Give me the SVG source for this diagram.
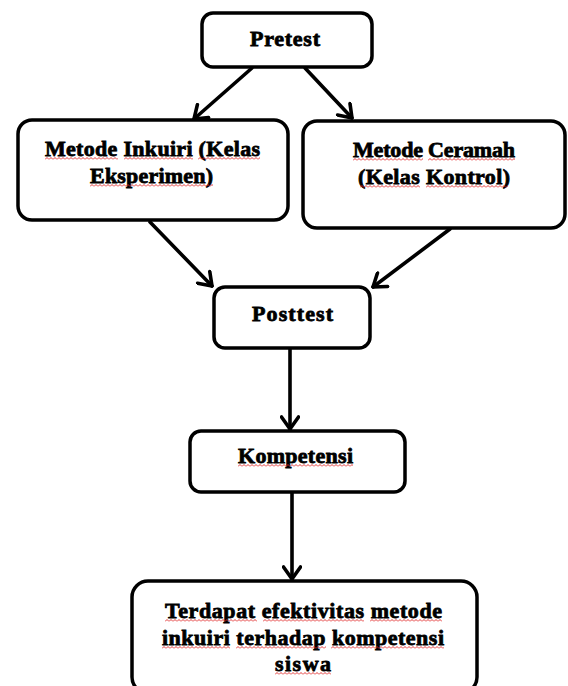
<svg xmlns="http://www.w3.org/2000/svg" width="568" height="686" viewBox="0 0 568 686">
<style>
.box{fill:#fff;stroke:#000;stroke-width:3.5}
.t{font-family:"Liberation Serif","Times New Roman",serif;font-weight:bold;font-size:22px;fill:#000;stroke:#000;stroke-width:0.8;text-anchor:start}
.c{fill:none;stroke:#000;stroke-width:3.6;stroke-linecap:round}
.sq{fill:url(#sq)}
</style>
<defs>
<pattern id="sq" width="4" height="3" patternUnits="userSpaceOnUse">
<path d="M0,2.5 L2,0.5 L4,2.5" fill="none" stroke="#e02020" stroke-width="0.9"/>
</pattern>
<marker id="ah" viewBox="-14 -10 16 20" refX="0" refY="0" markerWidth="16" markerHeight="20" markerUnits="userSpaceOnUse" orient="auto">
<path d="M-12,-8.5 L0,0 L-12,8.5" fill="none" stroke="#000" stroke-width="3.6" stroke-linecap="round" stroke-linejoin="round"/>
</marker>
</defs>
<g id="connectors">
<line class="c" x1="252" y1="68" x2="194" y2="119" marker-end="url(#ah)"/>
<line class="c" x1="305" y1="68" x2="352" y2="118" marker-end="url(#ah)"/>
<line class="c" x1="150" y1="222" x2="212" y2="286" marker-end="url(#ah)"/>
<line class="c" x1="450" y1="229" x2="373" y2="287" marker-end="url(#ah)"/>
<line class="c" x1="290" y1="349" x2="290" y2="429" marker-end="url(#ah)"/>
<line class="c" x1="292" y1="493" x2="292" y2="579" marker-end="url(#ah)"/>
</g>
<g id="pretest">
<rect class="box" x="202" y="13" width="170" height="54" rx="11"/>
<text class="t" x="250" y="46" textLength="70" lengthAdjust="spacing">Pretest</text>
</g>
<g id="inkuiri">
<rect class="box" x="18" y="120" width="270" height="100" rx="14"/>
<text class="t" x="45" y="156" textLength="215" lengthAdjust="spacing">Metode Inkuiri (Kelas</text>
<text class="t" x="90" y="183" textLength="123" lengthAdjust="spacing">Eksperimen)</text>
<rect class="sq" transform="translate(45,157)" width="73" height="3"/>
<rect class="sq" transform="translate(124,157)" width="69" height="3"/>
<rect class="sq" transform="translate(198,157)" width="62" height="3"/>
<rect class="sq" transform="translate(90,184)" width="123" height="3"/>
</g>
<g id="ceramah">
<rect class="box" x="303" y="121" width="262" height="107" rx="14"/>
<text class="t" x="353" y="157" textLength="162" lengthAdjust="spacing">Metode Ceramah</text>
<text class="t" x="358" y="184" textLength="152" lengthAdjust="spacing">(Kelas Kontrol)</text>
<rect class="sq" transform="translate(353,158)" width="70" height="3"/>
<rect class="sq" transform="translate(428,158)" width="87" height="3"/>
<rect class="sq" transform="translate(360,185)" width="60" height="3"/>
<rect class="sq" transform="translate(426,185)" width="82" height="3"/>
</g>
<g id="posttest">
<rect class="box" x="214" y="287" width="156" height="61" rx="11"/>
<text class="t" x="252" y="321" textLength="81" lengthAdjust="spacing">Posttest</text>
</g>
<g id="kompetensi">
<rect class="box" x="190" y="431" width="215" height="61" rx="11"/>
<text class="t" x="238" y="463" textLength="115" lengthAdjust="spacing">Kompetensi</text>
<rect class="sq" transform="translate(238,464)" width="115" height="3"/>
</g>
<g id="hasil">
<rect class="box" x="132" y="581" width="345" height="112" rx="16"/>
<text class="t" x="165" y="618" textLength="277" lengthAdjust="spacing">Terdapat efektivitas metode</text>
<text class="t" x="162" y="645" textLength="282" lengthAdjust="spacing">inkuiri terhadap kompetensi</text>
<text class="t" x="275" y="671" textLength="56" lengthAdjust="spacing">siswa</text>
<rect class="sq" transform="translate(165,619)" width="92" height="3"/>
<rect class="sq" transform="translate(263,619)" width="101" height="3"/>
<rect class="sq" transform="translate(370,619)" width="72" height="3"/>
<rect class="sq" transform="translate(162,646)" width="68" height="3"/>
<rect class="sq" transform="translate(236,646)" width="90" height="3"/>
<rect class="sq" transform="translate(331,646)" width="113" height="3"/>
<rect class="sq" transform="translate(275,672)" width="56" height="3"/>
</g>
</svg>
